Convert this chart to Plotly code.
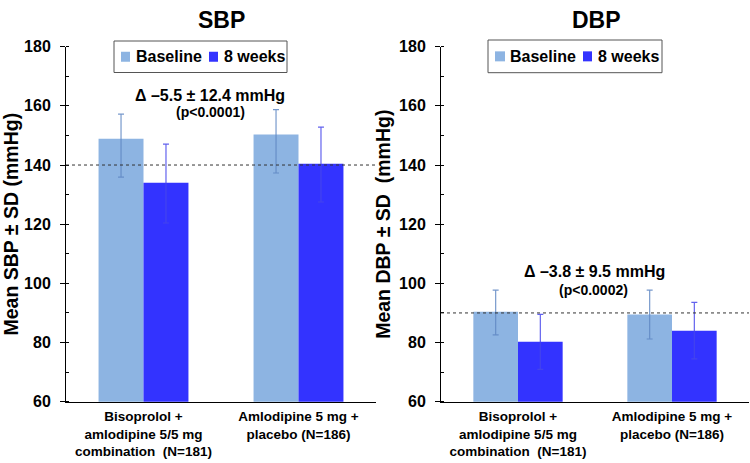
import plotly.graph_objects as go

# ---- data -------------------------------------------------------------
categories = [
    "Bisoprolol +<br>amlodipine 5/5 mg<br>combination  (N=181)",
    "Amlodipine 5 mg +<br>placebo (N=186)",
]
series_names = ["Baseline", "8 weeks"]

sbp_baseline = [148.9, 150.3]
sbp_baseline_sd_up = [8.3, 8.4]
sbp_baseline_sd_down = [13.0, 13.0]
sbp_week8 = [134.0, 140.4]
sbp_week8_sd_up = [13.1, 12.4]
sbp_week8_sd_down = [13.6, 12.9]

dbp_baseline = [90.4, 89.5]
dbp_baseline_sd_up = [7.3, 8.2]
dbp_baseline_sd_down = [7.8, 8.3]
dbp_week8 = [80.3, 84.0]
dbp_week8_sd_up = [9.2, 9.6]
dbp_week8_sd_down = [9.4, 9.5]

thresholds = [140, 90]
y_ticks = [60, 80, 100, 120, 140, 160, 180]

panel_titles = ["SBP", "DBP"]
y_titles = ["Mean SBP ± SD (mmHg)", "Mean DBP ± SD  (mmHg)"]
delta_texts = ["Δ –5.5 ± 12.4 mmHg", "Δ –3.8 ± 9.5 mmHg"]
p_texts = ["(p<0.0001)", "(p<0.0002)"]

# ---- styling ----------------------------------------------------------
W, H = 750, 463
FONT = "Arial, Liberation Sans, sans-serif"
C_BASE = "#8DB4E2"
C_W8 = "#3333FF"
C_BASE_ERR = "rgba(95,135,195,0.85)"
C_W8_ERR = "rgba(70,70,235,0.85)"


def fx(p):
    return p / W


def fy(p):
    return 1 - p / H


fig = go.Figure()

panels = [
    ("x", "y", sbp_baseline, sbp_baseline_sd_up, sbp_baseline_sd_down,
     sbp_week8, sbp_week8_sd_up, sbp_week8_sd_down),
    ("x2", "y2", dbp_baseline, dbp_baseline_sd_up, dbp_baseline_sd_down,
     dbp_week8, dbp_week8_sd_up, dbp_week8_sd_down),
]

for xa, ya, b, bu, bd, w, wu, wd in panels:
    fig.add_trace(go.Bar(
        x=categories, y=b, name=series_names[0], xaxis=xa, yaxis=ya,
        marker=dict(color=C_BASE, line=dict(width=0)), showlegend=False,
        error_y=dict(type="data", symmetric=False, array=bu, arrayminus=bd,
                     color=C_BASE_ERR, thickness=1.2, width=3),
    ))
    fig.add_trace(go.Bar(
        x=categories, y=w, name=series_names[1], xaxis=xa, yaxis=ya,
        marker=dict(color=C_W8, line=dict(width=0)), showlegend=False,
        error_y=dict(type="data", symmetric=False, array=wu, arrayminus=wd,
                     color=C_W8_ERR, thickness=1.2, width=3),
    ))

x_domains = [[fx(66), fx(376)], [fx(441), fx(749)]]
y_domain = [fy(401.7), fy(46.7)]

xaxis_common = dict(
    type="category", showline=True, linecolor="black", linewidth=1.3,
    ticks="", showgrid=False, zeroline=False, automargin=False,
    ticklabelstandoff=2,
    tickfont=dict(family=FONT, size=13.5, color="black", weight="bold"),
)
yaxis_common = dict(
    range=[60, 180], tickvals=y_ticks, showline=True, linecolor="black",
    linewidth=1, ticks="outside", ticklen=5, tickcolor="black", tickwidth=1,
    showgrid=False, zeroline=False, automargin=False, ticklabelstandoff=6,
    tickfont=dict(family=FONT, size=16, color="black", weight="bold"),
    minor=dict(dtick=10, ticks="inside", ticklen=3, tickcolor="black"),
    title=dict(font=dict(family=FONT, size=19.5, color="black", weight="bold"),
               standoff=3),
)

fig.update_layout(
    width=W, height=H,
    margin=dict(l=0, r=0, t=0, b=0),
    paper_bgcolor="white", plot_bgcolor="white",
    barmode="group", bargap=0.42, bargroupgap=0,
    xaxis=dict(domain=x_domains[0], anchor="y", **xaxis_common),
    xaxis2=dict(domain=x_domains[1], anchor="y2", **xaxis_common),
    yaxis=dict(domain=y_domain, anchor="x", **yaxis_common),
    yaxis2=dict(domain=y_domain, anchor="x2", **yaxis_common),
    font=dict(family=FONT, color="black"),
)
fig.layout.yaxis.title.text = y_titles[0]
fig.layout.yaxis2.title.text = y_titles[1]

# reference lines at the hypertension thresholds
for (xa, ya), t in zip([("x", "y"), ("x2", "y2")], thresholds):
    fig.add_shape(type="line", xref=f"{xa} domain", yref=ya,
                  x0=0, x1=1, y0=t, y1=t,
                  line=dict(color="#333333", width=1, dash="dot"))

# panel titles, change annotations and legends
title_x = [221, 596]
delta_pos = [(210, 95), (594, 271.5)]
p_pos = [(210, 112.5), (593, 290)]
legend_boxes = [(114, 287, 41, 72.5), (488, 662, 40, 72.7)]
legend_items = [
    [(121, 130, 134), (209, 218, 222)],
    [(495, 505, 508), (583, 592, 596)],
]


def label(x, y, text, size, xanchor="center"):
    fig.add_annotation(x=fx(x), y=fy(y), xref="paper", yref="paper",
                       text=text, showarrow=False, xanchor=xanchor,
                       yanchor="middle",
                       font=dict(family=FONT, size=size, color="black",
                                 weight="bold"))


for i in range(2):
    label(title_x[i], 20, panel_titles[i], 23)
    label(delta_pos[i][0], delta_pos[i][1], delta_texts[i], 16)
    label(p_pos[i][0], p_pos[i][1], p_texts[i], 14)

    x0, x1, y0, y1 = legend_boxes[i]
    fig.add_shape(type="rect", xref="paper", yref="paper",
                  x0=fx(x0), x1=fx(x1), y0=fy(y1), y1=fy(y0),
                  line=dict(color="#555555", width=1), fillcolor="white")
    ymid = (y0 + y1) / 2
    for (sx0, sx1, tx), name, col in zip(legend_items[i], series_names, [C_BASE, C_W8]):
        fig.add_shape(type="rect", xref="paper", yref="paper",
                      x0=fx(sx0), x1=fx(sx1), y0=fy(ymid + 5), y1=fy(ymid - 5),
                      line=dict(width=0), fillcolor=col)
        label(tx, ymid, name, 16, xanchor="left")

fig.write_html("out.html")
